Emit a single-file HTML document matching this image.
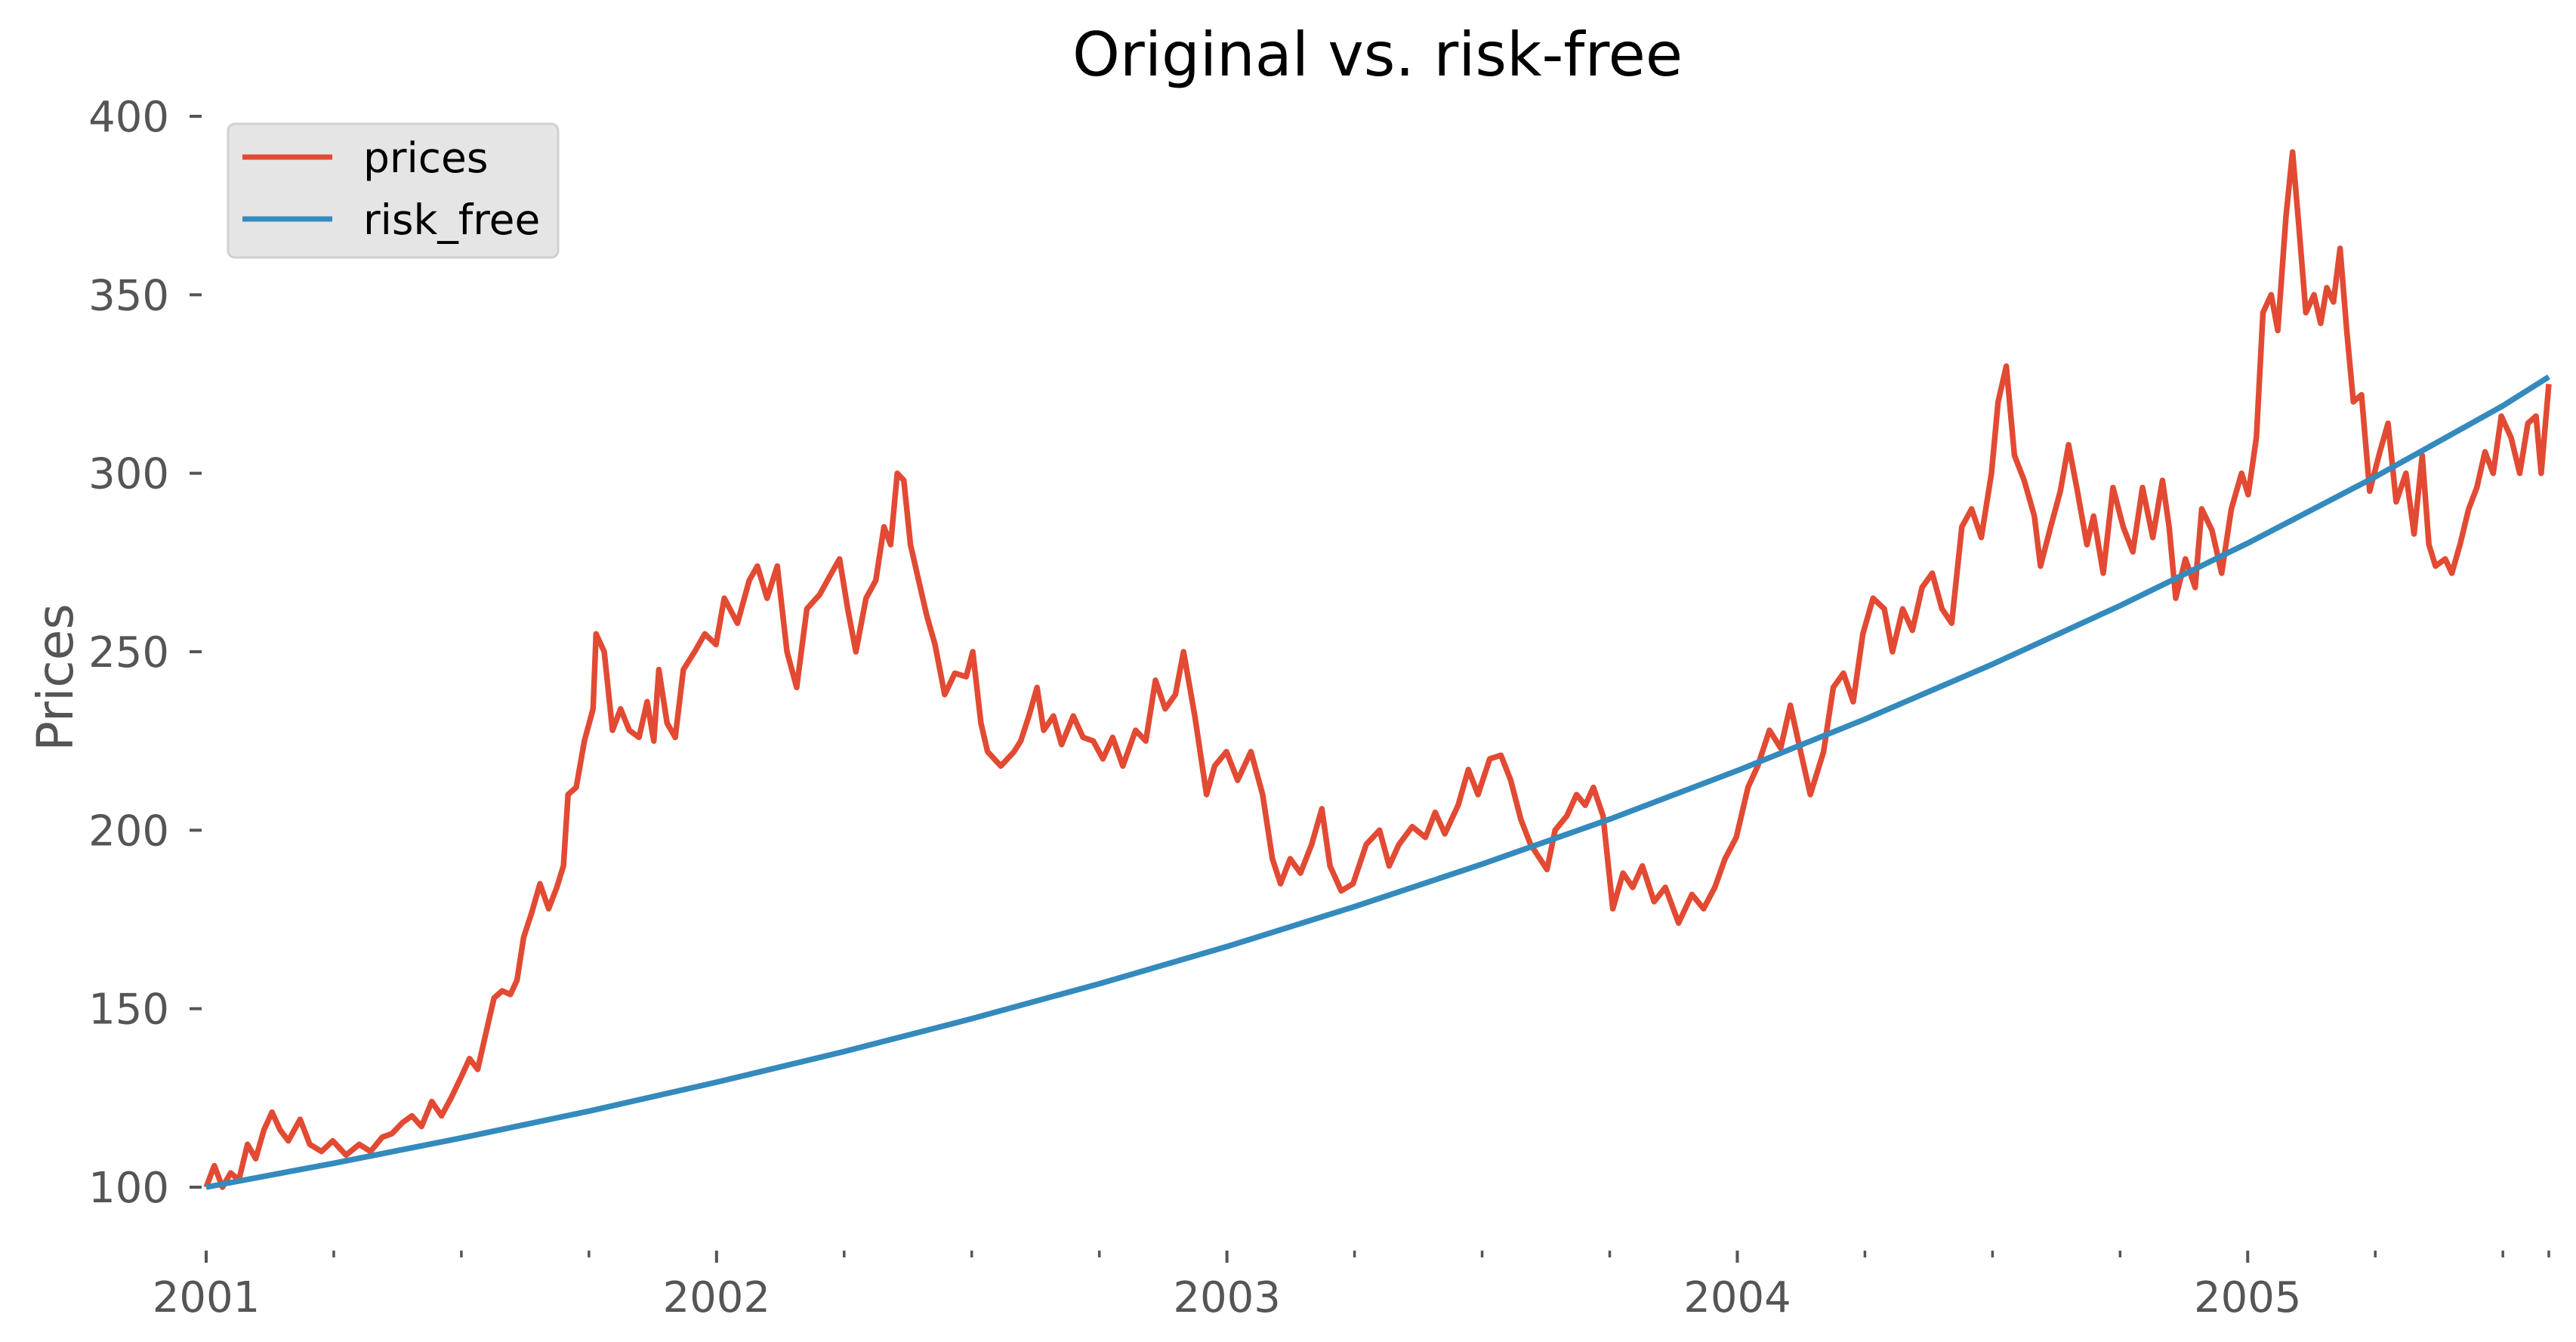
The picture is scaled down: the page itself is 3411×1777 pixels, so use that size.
<!DOCTYPE html>
<html><head><meta charset="utf-8"><style>
html,body{margin:0;padding:0;background:#fff;}
svg{display:block;font-family:"DejaVu Sans","Liberation Sans",sans-serif;}
</style></head><body>
<svg id="chart" width="3411" height="1777" viewBox="0 0 3411 1777" xmlns="http://www.w3.org/2000/svg">
<rect width="3411" height="1777" fill="#ffffff"/>
<text x="1824" y="100" text-anchor="middle" font-size="80" fill="#000">Original vs. risk-free</text>
<text transform="translate(96,897) rotate(-90)" text-anchor="middle" font-size="66" fill="#555">Prices</text>
<g id="yaxis"></g>
<g id="xaxis"></g>
<g id="series"></g>
<g>
<rect x="302" y="164" width="437" height="177" rx="9" fill="#e5e5e5" stroke="#d0d0d0" stroke-width="3"/>
<line x1="321" y1="208" x2="440" y2="208" stroke="#E24A33" stroke-width="7"/>
<text x="481" y="228" font-size="55" fill="#000">prices</text>
<line x1="321" y1="290" x2="440" y2="290" stroke="#348ABD" stroke-width="7"/>
<text x="481" y="310" font-size="55" fill="#000">risk_free</text>
</g>
</svg>
<script>
// years since 2001-01-01
const priceTimes = [0,.016,.032,.048,.064,.081,.097,.113,.129,.145,.161,.184,.203,.226,.248,.274,.300,.322,.345,.364,.384,.403,.422,.442,.461,.480,.500,.516,.532,.551,.564,.580,.596,.609,.622,.638,.654,.671,.687,.700,.709,.725,.741,.758,.764,.780,.796,.812,.829,.848,.864,.877,.887,.903,.919,.935,.957,.977,.999,1.015,1.041,1.064,1.080,1.099,1.119,1.138,1.157,1.177,1.202,1.225,1.241,1.257,1.273,1.293,1.312,1.328,1.341,1.354,1.367,1.380,1.396,1.412,1.428,1.447,1.467,1.489,1.502,1.518,1.531,1.557,1.583,1.596,1.612,1.628,1.641,1.660,1.676,1.699,1.718,1.738,1.757,1.776,1.796,1.821,1.841,1.860,1.879,1.899,1.915,1.937,1.960,1.976,1.999,2.021,2.047,2.070,2.089,2.105,2.124,2.144,2.166,2.186,2.202,2.224,2.247,2.273,2.299,2.318,2.337,2.363,2.389,2.408,2.427,2.453,2.473,2.492,2.515,2.537,2.556,2.576,2.595,2.627,2.643,2.666,2.685,2.702,2.718,2.737,2.756,2.776,2.795,2.814,2.837,2.859,2.885,2.911,2.934,2.956,2.976,2.998,3.021,3.040,3.063,3.085,3.104,3.124,3.143,3.169,3.188,3.208,3.227,3.246,3.266,3.288,3.304,3.324,3.343,3.362,3.382,3.401,3.420,3.440,3.459,3.478,3.498,3.511,3.527,3.543,3.562,3.582,3.594,3.614,3.633,3.649,3.665,3.685,3.698,3.717,3.736,3.756,3.775,3.794,3.814,3.833,3.846,3.859,3.878,3.897,3.910,3.930,3.949,3.968,3.988,4.001,4.017,4.030,4.046,4.059,4.075,4.088,4.101,4.114,4.130,4.143,4.155,4.168,4.181,4.194,4.207,4.223,4.239,4.259,4.275,4.291,4.310,4.326,4.342,4.355,4.368,4.387,4.400,4.416,4.433,4.449,4.465,4.481,4.497,4.516,4.533,4.549,4.565,4.575,4.590];
const priceValues = [100,106,100,104,102,112,108,116,121,116,113,119,112,110,113,109,112,110,114,115,118,120,117,124,120,125,131,136,133,145,153,155,154,158,170,177,185,178,184,190,210,212,225,234,255,250,228,234,228,226,236,225,245,230,226,245,250,255,252,265,258,270,274,265,274,250,240,262,266,272,276,262,250,265,270,285,280,300,298,280,270,260,252,238,244,243,250,230,222,218,222,225,232,240,228,232,224,232,226,225,220,226,218,228,225,242,234,238,250,232,210,218,222,214,222,210,192,185,192,188,196,206,190,183,185,196,200,190,196,201,198,205,199,207,217,210,220,221,214,203,196,189,200,204,210,207,212,204,178,188,184,190,180,184,174,182,178,184,192,198,212,218,228,223,235,222,210,222,240,244,236,255,265,262,250,262,256,268,272,262,258,285,290,282,300,320,330,305,298,288,274,285,295,308,296,280,288,272,296,285,278,296,282,298,285,265,276,268,290,284,272,290,300,294,310,345,350,340,372,390,368,345,350,342,352,348,363,340,320,322,295,306,314,292,300,283,305,280,274,276,272,280,290,296,306,300,316,310,300,314,316,300,325];
const riskTimes = [0,.25,.5,.75,1,1.25,1.5,1.75,2,2.25,2.5,2.75,3,3.25,3.5,3.75,4,4.25,4.5,4.59];
const riskValues = [100,106.7,113.8,121.3,129.4,138.0,147.2,157.0,167.4,178.6,190.5,203.1,216.7,231.1,246.5,262.9,280.4,299.0,318.9,327];
const yTicks = [100,150,200,250,300,350,400];
const xYearLabels = ["2001","2002","2003","2004","2005"];
const xMinorTicks = [0.25,0.5,0.75,1.25,1.5,1.75,2.25,2.5,2.75,3.25,3.5,3.75,4.25,4.5,4.59];

const X0=273, X1=3375, TMAX=4.59, Y100=1572, Y400=154;
const xs = t => X0 + t*(X1-X0)/TMAX;
const ys = v => Y100 - (v-100)*(Y100-Y400)/300;
const NS="http://www.w3.org/2000/svg";
function mk(tag, attrs, parent){const e=document.createElementNS(NS,tag);for(const k in attrs)e.setAttribute(k,attrs[k]);parent.appendChild(e);return e;}

const yax=document.getElementById('yaxis');
yTicks.forEach(v=>{
  const y=ys(v);
  const l=mk('line',{x1:251,x2:267,y1:y,y2:y,stroke:'#555','stroke-width':4},yax);
  
  
  const t=mk('text',{x:224,y:y+20,'text-anchor':'end','font-size':56,fill:'#555'},yax);
  t.textContent=v;
  
  
});
const xax=document.getElementById('xaxis');
xYearLabels.forEach((lab,i)=>{
  const x=xs(i);
  const l=mk('line',{x1:x,x2:x,y1:1656,y2:1672,stroke:'#555','stroke-width':4},xax);
  
  
  const t=mk('text',{x:x,y:1737,'text-anchor':'middle','font-size':56,fill:'#555'},xax);
  t.textContent=lab;
  
  
});
xMinorTicks.forEach(tt=>{
  const x=xs(tt);
  const l=mk('line',{x1:x,x2:x,y1:1656,y2:1665,stroke:'#555','stroke-width':3.5},xax);
  
  
});

const ser=document.getElementById('series');
function pathFrom(ts,vs){return ts.map((t,i)=>(i?'L':'M')+xs(t).toFixed(1)+','+ys(vs[i]).toFixed(1)).join('');}
const pp=mk('path',{d:pathFrom(priceTimes,priceValues),fill:'none',stroke:'#E24A33','stroke-width':7.5,'stroke-linejoin':'round'},ser);


const rp=mk('path',{d:pathFrom(riskTimes,riskValues),fill:'none',stroke:'#348ABD','stroke-width':7.5,'stroke-linejoin':'round'},ser);


</script>
</body></html>
